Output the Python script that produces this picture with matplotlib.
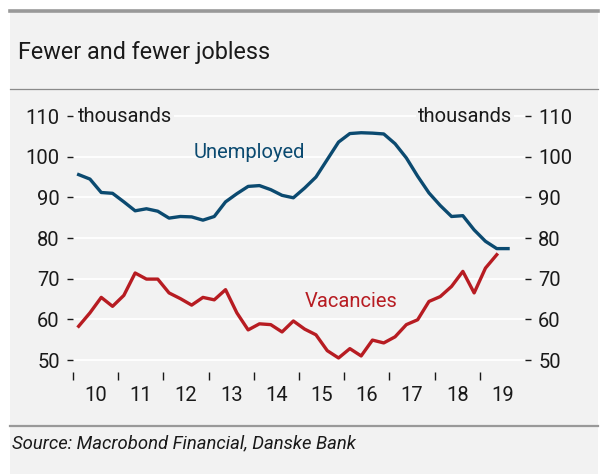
import matplotlib
matplotlib.use("Agg")
import matplotlib.pyplot as plt
from matplotlib.patches import Rectangle
from matplotlib.lines import Line2D
import numpy as np

# ---- data (quarterly, thousands) ----
start_year = 2010
unemployed = [95.6, 94.5, 91.2, 91.0, 88.9, 86.7, 87.2, 86.6, 84.9, 85.3,
              85.2, 84.4, 85.3, 88.9, 90.9, 92.7, 92.9, 91.9, 90.5, 89.9,
              92.3, 95.0, 99.3, 103.6, 105.7, 105.9, 105.8, 105.6, 103.2, 99.7,
              95.2, 91.1, 88.0, 85.3, 85.5, 82.0, 79.2, 77.4, 77.4]
vacancies = [58.3, 61.6, 65.4, 63.2, 65.9, 71.4, 69.9, 69.9, 66.5, 65.1,
             63.5, 65.4, 64.8, 67.3, 61.6, 57.4, 58.9, 58.7, 56.9, 59.6,
             57.6, 56.2, 52.3, 50.5, 52.8, 51.0, 54.9, 54.2, 55.7, 58.7,
             59.9, 64.4, 65.6, 68.1, 71.8, 66.5, 72.6, 75.9]
year_labels = ["10", "11", "12", "13", "14", "15", "16", "17", "18", "19"]
y_ticks = [50, 60, 70, 80, 90, 100, 110]

t_u = start_year + 0.125 + 0.25 * np.arange(len(unemployed))
t_v = start_year + 0.125 + 0.25 * np.arange(len(vacancies))

BLUE = "#0b4a70"
RED = "#b71c22"
BG = "#f2f2f2"
TXT = "#1a1a1a"
FONT = "Roboto"
WT = "normal"
FS = 14.5

W, H = 603, 474
fig = plt.figure(figsize=(W / 100, H / 100), dpi=100, facecolor="white")

def fx(px):
    return px / W

def fy(py):
    return 1 - py / H

# panel background and rules
fig.patches.append(Rectangle((fx(10), 0), fx(598) - fx(10), fy(10), transform=fig.transFigure,
                             facecolor=BG, edgecolor="none", zorder=-10))
fig.lines.append(Line2D([fx(10), fx(598)], [fy(11), fy(11)], transform=fig.transFigure,
                        color="#999999", lw=2.6, zorder=-5))
fig.lines.append(Line2D([fx(10), fx(598)], [fy(88.5), fy(88.5)], transform=fig.transFigure,
                        color="#8a8a8a", lw=0.9, zorder=-5))
fig.lines.append(Line2D([fx(10), fx(598)], [fy(425.5), fy(425.5)], transform=fig.transFigure,
                        color="#999999", lw=1.6, zorder=-5))

fig.text(fx(18), fy(52), "Fewer and fewer jobless", fontsize=16.8, family=FONT, weight=WT,
         color=TXT, ha="left", va="center")
fig.text(fx(12), fy(443), "Source: Macrobond Financial, Danske Bank", fontsize=13.3,
         family=FONT, weight=WT, style="italic", color=TXT, ha="left", va="center")

# axes
left, right = 73, 525
top, bottom = 112, 372
ax = fig.add_axes([fx(left), fy(bottom), fx(right) - fx(left), fy(top) - fy(bottom)])
ax.set_facecolor("none")
ax.set_xlim(2010, 2020)
ax.set_ylim(47.05, 111)

for s in ax.spines.values():
    s.set_visible(False)

ax.set_yticks(y_ticks)
ax.set_yticklabels([str(v) for v in y_ticks])
ax.grid(axis="y", color="white", lw=1.3, zorder=1)
ax.tick_params(axis="y", which="both", left=True, right=True, labelleft=True, labelright=True,
               length=4.5, width=1.0, color=TXT, direction="out", pad=5,
               labelsize=FS, labelcolor=TXT)
for lab in ax.get_yticklabels():
    lab.set_family(FONT)
    lab.set_weight(WT)

years = np.arange(2010, 2020)
ax.set_xticks(years)
ax.set_xticklabels([""] * len(years))
ax.set_xticks(years + 0.5, minor=True)
ax.set_xticklabels(year_labels, minor=True)
ax.tick_params(axis="x", which="major", length=6, width=1.0, color=TXT, direction="out")
ax.tick_params(axis="x", which="minor", length=0, pad=10, labelsize=FS, labelcolor=TXT)
for lab in ax.get_xticklabels(minor=True):
    lab.set_family(FONT)
    lab.set_weight(WT)

ax.plot(t_u, unemployed, color=BLUE, lw=2.4, solid_joinstyle="round", zorder=3)
ax.plot(t_v, vacancies, color=RED, lw=2.4, solid_joinstyle="round", zorder=3)

ax.text(2010.1, 110, "thousands", fontsize=FS, family=FONT, weight=WT, color=TXT,
        ha="left", va="center", bbox=dict(facecolor=BG, edgecolor="none", pad=1.5), zorder=4)
ax.text(2019.72, 110, "thousands", fontsize=FS, family=FONT, weight=WT, color=TXT,
        ha="right", va="center", bbox=dict(facecolor=BG, edgecolor="none", pad=1.5), zorder=4)
ax.text(2013.9, 101, "Unemployed", fontsize=FS, family=FONT, weight=WT, color=BLUE,
        ha="center", va="center")
ax.text(2016.15, 64.5, "Vacancies", fontsize=FS, family=FONT, weight=WT, color=RED,
        ha="center", va="center")

fig.savefig("out.png", dpi=100, facecolor="white")
